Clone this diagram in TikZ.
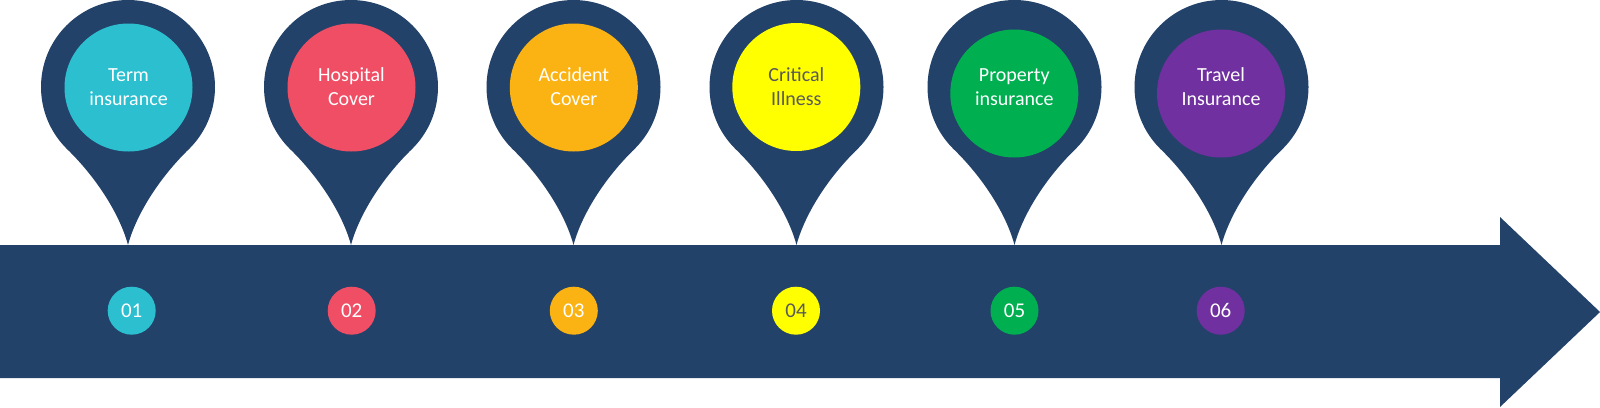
\documentclass[tikz,border=0pt]{standalone}
\usepackage{fontspec}
\setmainfont{Carlito}
\definecolor{navy}{HTML}{23426A}
\definecolor{cTerm}{HTML}{2CBFCF}
\definecolor{cHosp}{HTML}{F04E64}
\definecolor{cAcc}{HTML}{FBB313}
\definecolor{cCrit}{HTML}{FFFF00}
\definecolor{cProp}{HTML}{00B050}
\definecolor{cTrav}{HTML}{7030A0}
\definecolor{darktext}{HTML}{595959}
\tikzset{
  pinshape/.style={fill=navy},
  bigdot/.style={circle, minimum size=128pt, inner sep=0pt},
  smalldot/.style={circle, minimum size=48pt, inner sep=0pt, font=\fontsize{21}{24}\selectfont},
  pintext/.style={align=center, inner sep=0pt, font=\fontsize{20}{24}\selectfont},
}
\newcommand{\drawpin}[1]{%
  \fill[pinshape] (#1+87*0.7071, 87+87*0.7071) arc[start angle=45, end angle=-225, radius=87]
    .. controls (#1-31,178) and (#1-8,215) .. (#1,245)
    .. controls (#1+8,215) and (#1+31,178) .. cycle;}
\begin{document}
\begin{tikzpicture}[x=1pt,y=-1pt]
\useasboundingbox (0,0) rectangle (1600,407);
% arrow band
\fill[navy] (0,245) -- (1500,245) -- (1500,217) -- (1600,312) -- (1500,407) -- (1500,378) -- (0,378) -- cycle;
% pins
\drawpin{128}
\drawpin{351}
\drawpin{573.5}
\drawpin{796.5}
\drawpin{1014.5}
\drawpin{1221.5}
% inner circles
\node[bigdot, fill=cTerm] (c1) at (128.5,87.5) {};
\node[bigdot, fill=cHosp] (c2) at (351.5,87.5) {};
\node[bigdot, fill=cAcc]  (c3) at (573.8,87.5) {};
\node[bigdot, fill=cCrit] (c4) at (796.3,87) {};
\node[bigdot, fill=cProp] (c5) at (1014.3,93.5) {};
\node[bigdot, fill=cTrav] (c6) at (1221,93.5) {};
% texts
\node[pintext, text=white]    (t1) at (128.5,87) {Term\\insurance};
\node[pintext, text=white]    (t2) at (351.5,87) {Hospital\\Cover};
\node[pintext, text=white]    (t3) at (573.8,87) {Accident\\Cover};
\node[pintext, text=darktext] (t4) at (796.3,87) {Critical\\Illness};
\node[pintext, text=white]    (t5) at (1014.3,87) {Property\\insurance};
\node[pintext, text=white]    (t6) at (1221,87) {Travel\\Insurance};
% numbers
\node[smalldot, fill=cTerm, text=white]    (n1) at (131.7,310.7) {01};
\node[smalldot, fill=cHosp, text=white]    (n2) at (351.7,310.7) {02};
\node[smalldot, fill=cAcc, text=white]     (n3) at (573.8,310.7) {03};
\node[smalldot, fill=cCrit, text=darktext] (n4) at (796,310.7) {04};
\node[smalldot, fill=cProp, text=white]    (n5) at (1014.5,310.7) {05};
\node[smalldot, fill=cTrav, text=white]    (n6) at (1220.7,310.7) {06};
\end{tikzpicture}
\end{document}
